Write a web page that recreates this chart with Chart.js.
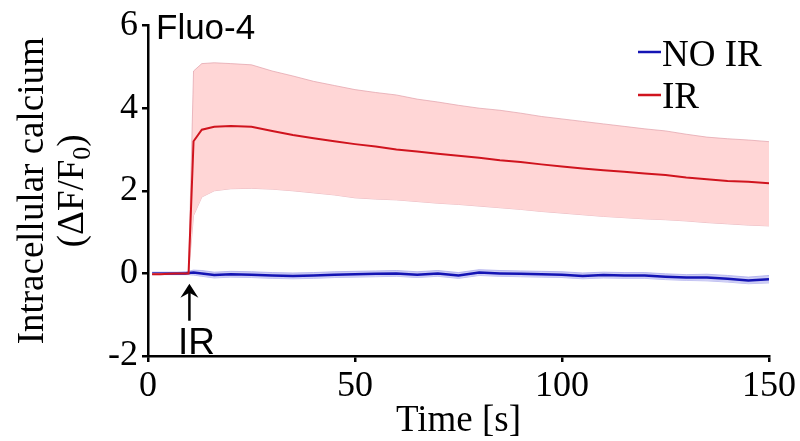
<!DOCTYPE html>
<html><head><meta charset="utf-8">
<script src="https://cdn.jsdelivr.net/npm/chart.js@4.4.1/dist/chart.umd.min.js"></script>
<style>html,body{margin:0;padding:0;background:#fff}</style>
</head><body>
<canvas id="c" width="800" height="441"></canvas>
<script>
// ---- data ----
const timeS   = [1,3,5,7,9,9.8,11,13,16,20,25,30,35,40,45,50,55,60,65,70,75,80,85,90,95,100,105,110,115,120,125,130,135,140,145,150];
const irMean  = [-0.02,-0.02,-0.01,0,0,0,3.2,3.48,3.55,3.57,3.55,3.45,3.35,3.27,3.2,3.13,3.07,3.0,2.95,2.9,2.85,2.8,2.74,2.7,2.64,2.59,2.54,2.5,2.46,2.42,2.38,2.32,2.28,2.24,2.22,2.18];
const irUpper = [0,0,0,0,0,0,4.9,5.08,5.1,5.08,5.05,4.9,4.78,4.65,4.55,4.45,4.38,4.32,4.22,4.15,4.07,4.0,3.95,3.88,3.8,3.74,3.68,3.62,3.56,3.5,3.45,3.37,3.3,3.26,3.23,3.19];
const irLower = [0,0,0,0,0,0,1.4,1.85,2.0,2.05,2.06,2.04,2.0,1.95,1.9,1.83,1.8,1.78,1.74,1.7,1.67,1.63,1.59,1.55,1.5,1.46,1.42,1.38,1.35,1.32,1.3,1.27,1.23,1.2,1.17,1.15];
const noMean  = [0,0,0,0,0,0.01,0.02,0.0,-0.04,-0.02,-0.03,-0.05,-0.06,-0.05,-0.03,-0.02,-0.01,0.0,-0.03,0.0,-0.05,0.02,0.0,-0.01,-0.02,-0.03,-0.06,-0.04,-0.05,-0.05,-0.08,-0.1,-0.1,-0.13,-0.17,-0.14];
const noUpper = [0.03,0.03,0.03,0.03,0.04,0.05,0.08,0.07,0.03,0.05,0.04,0.02,0.01,0.02,0.04,0.05,0.06,0.07,0.04,0.07,0.02,0.09,0.07,0.06,0.05,0.04,0.01,0.03,0.02,0.02,-0.01,-0.03,-0.02,-0.05,-0.09,-0.05];
const noLower = [-0.03,-0.03,-0.03,-0.03,-0.03,-0.03,-0.04,-0.07,-0.11,-0.09,-0.1,-0.12,-0.13,-0.12,-0.1,-0.09,-0.08,-0.07,-0.1,-0.07,-0.12,-0.05,-0.07,-0.08,-0.09,-0.1,-0.13,-0.11,-0.12,-0.12,-0.15,-0.17,-0.18,-0.21,-0.25,-0.23];
const seriesLabels = ['NO IR', 'IR'];
const xTicks = [0, 50, 100, 150];
const yTicks = [-2, 0, 2, 4, 6];
const panelTitle = 'Fluo-4';
const xTitle = 'Time [s]';
const yTitleLine1 = 'Intracellular calcium';
const yTitleLine2 = ['(\u0394F/F', '0', ')'];
const irOnset = 10;
const irMarkLabel = 'IR';

// ---- styles ----
const RED = '#d0141e', BLUE = '#1414b4';
const SERIF = '"Liberation Serif","Times New Roman",serif';
const SANS = '"Liberation Sans",Arial,sans-serif';

const pts = arr => arr.map((v, i) => ({x: timeS[i], y: v}));

const textPlugin = {
  id: 'texts',
  afterDraw(chart) {
    const {ctx, scales: {x, y}, chartArea} = chart;
    ctx.save();
    ctx.fillStyle = '#000';
    // panel title
    ctx.font = '35px ' + SANS;
    ctx.textAlign = 'left'; ctx.textBaseline = 'alphabetic';
    ctx.fillText(panelTitle, 156, 39);
    // legend
    const leg = [[seriesLabels[0], BLUE, 52, 66], [seriesLabels[1], RED, 95, 108]];
    ctx.font = '37px ' + SERIF;
    leg.forEach(([t, c, ly, by]) => {
      ctx.strokeStyle = c; ctx.lineWidth = 2.5;
      ctx.beginPath(); ctx.moveTo(638, ly); ctx.lineTo(661, ly); ctx.stroke();
      ctx.fillText(t, 662, by);
    });
    // IR arrow annotation
    const ax = x.getPixelForValue(irOnset);
    const tipY = y.getPixelForValue(-0.25);
    ctx.strokeStyle = '#000'; ctx.lineWidth = 2.5;
    ctx.beginPath(); ctx.moveTo(ax, tipY + 6); ctx.lineTo(ax, tipY + 37); ctx.stroke();
    ctx.beginPath(); ctx.moveTo(ax, tipY); ctx.lineTo(ax - 9, tipY + 14); ctx.lineTo(ax, tipY + 9); ctx.lineTo(ax + 9, tipY + 14); ctx.closePath(); ctx.fill();
    ctx.font = '37px ' + SANS; ctx.textAlign = 'center';
    ctx.fillText(irMarkLabel, ax + 7, tipY + 70);
    // x title
    ctx.font = '37px ' + SERIF;
    ctx.fillText(xTitle, (chartArea.left + chartArea.right) / 2, 431);
    // y title
    const cy = (chartArea.top + chartArea.bottom) / 2;
    ctx.save();
    ctx.translate(43, cy); ctx.rotate(-Math.PI / 2);
    ctx.textAlign = 'center';
    ctx.font = '37px ' + SERIF;
    ctx.fillText(yTitleLine1, 0, 0);
    ctx.restore();
    ctx.save();
    ctx.translate(83, cy); ctx.rotate(-Math.PI / 2);
    ctx.textAlign = 'left';
    const big = '37px ' + SERIF, small = '26px ' + SERIF;
    ctx.font = big; const w1 = ctx.measureText(yTitleLine2[0]).width, w3 = ctx.measureText(yTitleLine2[2]).width;
    ctx.font = small; const w2 = ctx.measureText(yTitleLine2[1]).width;
    let sx = -(w1 + w2 + w3) / 2;
    ctx.font = big; ctx.fillText(yTitleLine2[0], sx, 0); sx += w1;
    ctx.font = small; ctx.fillText(yTitleLine2[1], sx, 7); sx += w2;
    ctx.font = big; ctx.fillText(yTitleLine2[2], sx, 0);
    ctx.restore();
    ctx.restore();
  }
};

const axisCommon = {
  border: {color: '#000', width: 2.5},
  grid: {display: true, drawOnChartArea: false, drawTicks: true, tickLength: 6, color: '#000', lineWidth: 2.5},
};

new Chart(document.getElementById('c'), {
  type: 'line',
  data: {
    datasets: [
      {label: seriesLabels[1], data: pts(irMean), borderColor: RED, borderWidth: 2, pointRadius: 0, fill: false, order: 0},
      {label: 'IR upper', data: pts(irUpper), borderColor: 'rgba(225,160,170,0.7)', borderWidth: 1, pointRadius: 0, backgroundColor: 'rgb(255,214,214)', fill: '+1', order: 1},
      {label: 'IR lower', data: pts(irLower), borderColor: 'rgba(225,160,170,0.7)', borderWidth: 1, pointRadius: 0, fill: false, order: 1},
      {label: seriesLabels[0], data: pts(noMean), borderColor: BLUE, borderWidth: 2.5, pointRadius: 0, fill: false, order: 2},
      {label: 'NO IR upper', data: pts(noUpper), borderColor: 'rgba(170,170,235,0.8)', borderWidth: 1, pointRadius: 0, backgroundColor: 'rgb(205,205,245)', fill: '+1', order: 3},
      {label: 'NO IR lower', data: pts(noLower), borderColor: 'rgba(170,170,235,0.8)', borderWidth: 1, pointRadius: 0, fill: false, order: 3}
    ]
  },
  options: {
    responsive: false, animation: false, devicePixelRatio: 1,
    layout: {padding: {top: 24, right: 31, left: 0, bottom: 0}},
    plugins: {legend: {display: false}, tooltip: {enabled: false}},
    scales: {
      x: Object.assign({}, axisCommon, {
        type: 'linear', min: xTicks[0], max: xTicks[xTicks.length - 1],
        afterBuildTicks: s => { s.ticks = xTicks.map(v => ({value: v})); },
        ticks: {color: '#000', font: {family: SERIF, size: 36}, padding: 3, maxRotation: 0, autoSkip: false},
        afterFit: s => { s.height = 85; }
      }),
      y: Object.assign({}, axisCommon, {
        type: 'linear', min: yTicks[0], max: yTicks[yTicks.length - 1],
        afterBuildTicks: s => { s.ticks = yTicks.map(v => ({value: v})); },
        ticks: {color: '#000', font: {family: SERIF, size: 36}, padding: 4, autoSkip: false},
        afterFit: s => { s.width = 148; }
      })
    }
  },
  plugins: [textPlugin]
});
</script>
</body></html>
